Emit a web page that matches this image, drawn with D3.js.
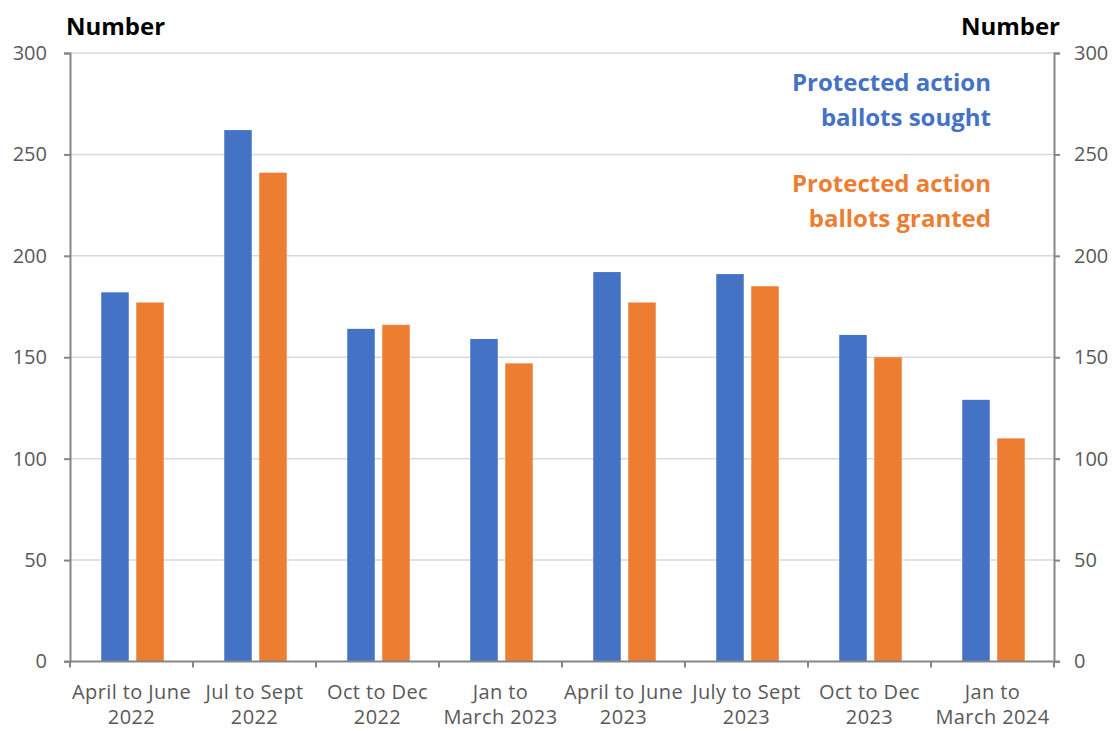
<!DOCTYPE html>
<html>
<head>
<meta charset="utf-8">
<script src="https://cdn.jsdelivr.net/npm/d3@7"></script>
<style>
  html, body { margin: 0; padding: 0; background: #fff; }
  svg { display: block; font-family: "Open Sans", Lato, sans-serif; }
</style>
</head>
<body>
<svg id="chart" width="1114" height="731"></svg>
<script>
// Quarterly protected action ballot applications
const categories = [
  ["April to June", "2022"],
  ["Jul to Sept", "2022"],
  ["Oct to Dec", "2022"],
  ["Jan to", "March 2023"],
  ["April to June", "2023"],
  ["July to Sept", "2023"],
  ["Oct to Dec", "2023"],
  ["Jan to", "March 2024"]
];
const sought  = [182, 262, 164, 159, 192, 191, 161, 129];
const granted = [177, 241, 166, 147, 177, 185, 150, 110];
const yTicks  = [0, 50, 100, 150, 200, 250, 300];
const seriesNames = ["Protected action ballots sought", "Protected action ballots granted"];

const BLUE = "#4472C4", ORANGE = "#ED7D31";
const FONT = "'Open Sans', Lato, sans-serif";
const svg = d3.select("#chart");
const m = { left: 70, right: 1054, top: 53, bottom: 661.5 };

const x = d3.scaleBand().domain(d3.range(categories.length)).range([m.left, m.right]);
const y = d3.scaleLinear().domain([0, 300]).range([m.bottom, m.top]);

const barW = 27.5, gap = 7.5;
const groupW = barW * 2 + gap;

// gridlines
svg.append("g")
  .selectAll("line").data(yTicks.filter(d => d > 0)).join("line")
  .attr("x1", m.left).attr("x2", m.right)
  .attr("y1", d => y(d)).attr("y2", d => y(d))
  .attr("stroke", "#d9d9d9").attr("stroke-width", 1.5);

// bars
const series = [sought, granted];
const colors = [BLUE, ORANGE];
series.forEach((vals, si) => {
  svg.append("g").selectAll("rect").data(vals).join("rect")
    .attr("x", (d, i) => x(i) + x.bandwidth() / 2 - groupW / 2 + 1 + si * (barW + gap))
    .attr("y", d => y(d))
    .attr("width", barW)
    .attr("height", d => y(0) - y(d))
    .attr("fill", colors[si]);
});

// axes
const axisColor = "#868686";
const leftAxis = svg.append("g").attr("transform", `translate(${m.left},0)`)
  .call(d3.axisLeft(y).tickValues(yTicks).tickSize(6).tickPadding(17));
const rightAxis = svg.append("g").attr("transform", `translate(${m.right},0)`)
  .call(d3.axisRight(y).tickValues(yTicks).tickSize(6).tickPadding(14));
[leftAxis, rightAxis].forEach(g => {
  g.select(".domain").attr("stroke", axisColor).attr("stroke-width", 2);
  g.selectAll(".tick line").attr("stroke", axisColor).attr("stroke-width", 2);
  g.selectAll(".tick text").attr("fill", "#595959")
    .style("font-size", "20px").style("font-family", FONT);
});

// category axis
const bottom = svg.append("g");
bottom.append("line")
  .attr("x1", m.left - 6).attr("x2", m.right + 6)
  .attr("y1", y(0)).attr("y2", y(0))
  .attr("stroke", axisColor).attr("stroke-width", 2);
bottom.selectAll("line.tick").data(d3.range(categories.length + 1)).join("line")
  .attr("class", "tick")
  .attr("x1", i => m.left + i * x.bandwidth())
  .attr("x2", i => m.left + i * x.bandwidth())
  .attr("y1", y(0)).attr("y2", y(0) + 6)
  .attr("stroke", axisColor).attr("stroke-width", 2);
const labels = bottom.selectAll("text").data(categories).join("text")
  .attr("text-anchor", "middle")
  .attr("fill", "#595959")
  .style("font-size", "20px")
  .style("letter-spacing", "0.4px");
labels.each(function(d, i) {
  const t = d3.select(this);
  d.forEach((line, li) => {
    t.append("tspan")
      .attr("x", x(i) + x.bandwidth() / 2)
      .attr("y", 699 + li * 25)
      .text(line);
  });
});

// axis titles
svg.append("text").attr("x", 66).attr("y", 35)
  .attr("font-weight", 700).style("font-size", "24px").attr("fill", "#000")
  .text("Number");
svg.append("text").attr("x", 1060).attr("y", 35).attr("text-anchor", "end")
  .attr("font-weight", 700).style("font-size", "24px").attr("fill", "#000")
  .text("Number");

// series labels
const legend = [
  { lines: ["Protected action", "ballots sought"], color: BLUE, y: 91 },
  { lines: ["Protected action", "ballots granted"], color: ORANGE, y: 192 }
];
legend.forEach(l => {
  const t = svg.append("text").attr("text-anchor", "end")
    .attr("font-weight", 700).style("font-size", "24px").attr("fill", l.color);
  l.lines.forEach((line, li) => {
    t.append("tspan").attr("x", 991).attr("y", l.y + li * 35).text(line);
  });
});
</script>
</body>
</html>
